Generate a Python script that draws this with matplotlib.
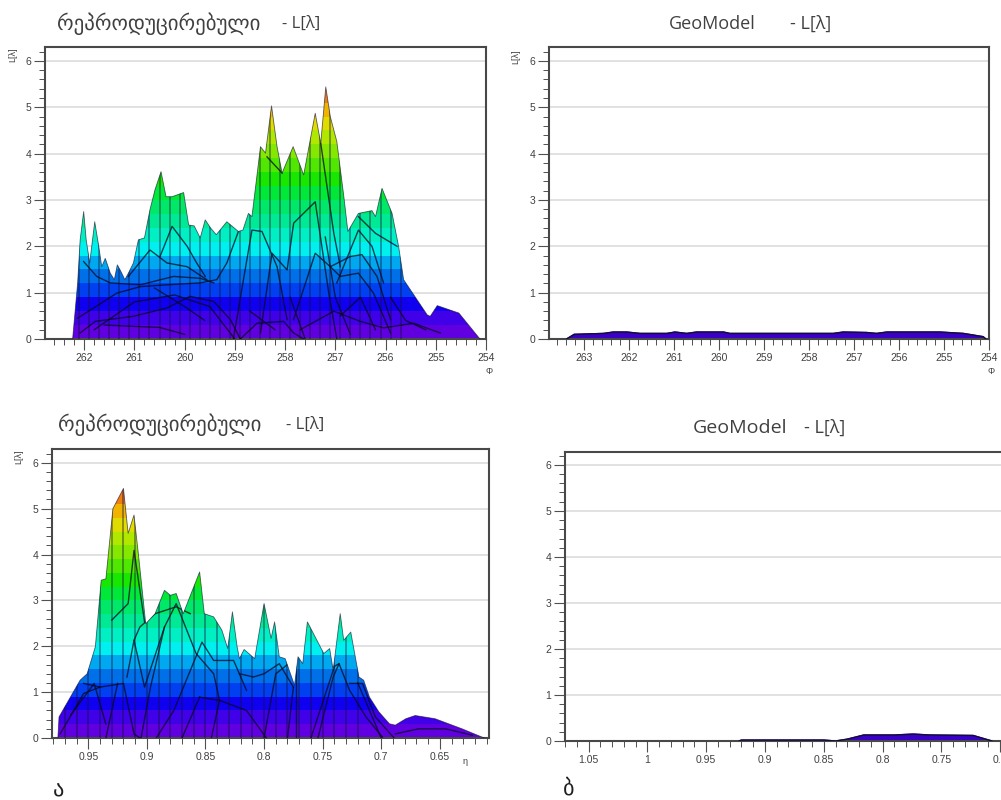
import matplotlib
matplotlib.use('Agg')
import matplotlib.pyplot as plt
from matplotlib.patches import Polygon
from matplotlib.ticker import AutoMinorLocator, FixedLocator, FixedFormatter

W, H = 1001, 800

# upper envelope of the reproduced distribution, phi projection
phi_x = [262.23, 262.13, 262.08, 262.01, 261.96, 261.89, 261.79, 261.71, 261.65, 261.58,
         261.48, 261.40, 261.34, 261.27, 261.19, 261.12, 261.02, 260.92, 260.80, 260.69,
         260.59, 260.47, 260.37, 260.25, 260.02, 259.92, 259.81, 259.69, 259.59, 259.48,
         259.37, 259.16, 258.93, 258.84, 258.73, 258.66, 258.49, 258.39, 258.27, 258.16,
         258.06, 257.84, 257.63, 257.40, 257.29, 257.19, 257.10, 256.97, 256.83, 256.75,
         256.54, 256.27, 256.20, 256.07, 255.87, 255.74, 255.64, 255.17, 255.11, 254.97,
         254.54, 254.12]
phi_y = [0, 1.21, 2.14, 2.75, 2.14, 1.64, 2.53, 2.00, 1.56, 1.74,
         1.42, 1.28, 1.60, 1.46, 1.28, 1.42, 1.64, 2.14, 2.18, 2.79,
         3.22, 3.61, 3.07, 3.07, 3.16, 2.46, 2.44, 2.18, 2.57, 2.39,
         2.25, 2.53, 2.32, 2.35, 2.71, 2.64, 4.15, 4.01, 5.03, 4.15,
         3.58, 4.15, 3.54, 4.87, 4.22, 5.44, 4.80, 4.26, 3.07, 2.32,
         2.71, 2.77, 2.64, 3.25, 2.71, 2.00, 1.28, 0.52, 0.49, 0.72,
         0.56, 0]

# wire lines inside the surface, phi projection
phi_wires = [
    [(262.13, .45), (261.81, .67), (261.35, .99), (260.88, 1.13), (260.35, 1.17), (259.69, 1.21),
     (259.36, 1.28), (259.16, 1.64), (258.93, 2.32)],
    [(262.08, .13), (261.78, .38), (261.02, .49), (260.35, .67), (259.89, .92), (259.42, .81),
     (259.09, .42), (258.89, 0)],
    [(262.01, 1.67), (261.75, 1.35), (261.48, 1.21), (260.88, 1.17), (260.22, 1.35), (259.69, 1.31),
     (259.42, 1.21)],
    [(261.12, 1.35), (260.69, 1.92), (260.35, 1.64), (259.95, 1.56), (259.56, 1.28)],
    [(260.49, 1.78), (260.25, 2.43), (259.95, 2.00), (259.76, 1.64), (259.59, 1.35)],
    [(258.89, 0), (258.56, .34), (258.03, .38), (257.83, .13), (257.63, 0)],
    [(259.03, 0), (258.66, 2.35), (258.46, 2.32), (258.16, 1.56), (257.96, .42)],
    [(258.49, .13), (258.26, 1.85), (257.96, 1.49), (257.83, 2.50), (257.40, 2.96), (257.13, .99),
     (256.97, 0)],
    [(258.36, 3.93), (258.06, 3.58)],
    [(257.83, .42), (257.40, 1.85), (257.10, 1.56), (256.90, 1.35), (256.54, 1.42), (256.24, .99),
     (255.90, .13)],
    [(257.10, 1.56), (256.70, 1.78), (256.47, 1.82), (256.17, 1.35), (255.90, .42)],
    [(256.97, 1.21), (256.54, 2.35), (256.27, 2.00), (256.04, 1.21)],
    [(256.54, 2.64), (256.20, 2.28), (255.77, 2.00)],
    [(257.70, .20), (257.03, .60), (256.50, .38), (256.04, .24), (255.44, .34), (254.91, .13)],
    [(257.29, 4.22), (257.03, 2.28), (256.90, 1.56)],
    [(261.80, .20), (261.00, .80), (260.20, .95), (259.50, .70), (259.00, 0)],
    [(261.60, .30), (260.50, .25), (260.00, .10)],
    [(258.70, .60), (258.20, .20)],
    [(257.90, .90), (257.60, 0)],
    [(257.20, 2.20), (257.00, .90), (256.70, .10)],
    [(256.90, .50), (256.50, .90), (256.20, .20)],
    [(255.90, .90), (255.60, .40), (255.20, .20)],
    [(260.60, 1.10), (260.00, .70), (259.60, .40)],
]
phi_grid = [262.1, 261.9, 261.7, 261.5, 261.3, 261.1, 260.9, 260.7, 260.5, 260.3, 260.1, 259.9,
            259.7, 259.5, 259.3, 259.1, 258.9, 258.7, 258.5, 258.3, 258.1, 257.9, 257.7, 257.5,
            257.3, 257.1, 256.9, 256.7, 256.5, 256.3, 256.1, 255.9, 255.7]

# upper envelope of the reproduced distribution, eta projection
eta_x = [.976, .975, .957, .951, .944, .939, .935, .929, .920, .916, .911, .907, .901, .893,
         .885, .880, .875, .869, .855, .851, .843, .836, .831, .827, .823, .821, .817, .808,
         .800, .794, .791, .787, .782, .774, .771, .767, .763, .749, .744, .741, .735, .732,
         .726, .719, .715, .710, .702, .693, .688, .679, .671, .654, .631, .612]
eta_y = [0, .46, 1.26, 1.40, 1.99, 3.44, 3.47, 5.00, 5.44, 4.46, 4.86, 3.95, 2.49, 2.71,
         3.22, 3.11, 3.15, 2.71, 3.62, 2.71, 2.64, 2.35, 1.95, 2.75, 1.99, 1.73, 1.93, 1.73,
         2.93, 2.17, 2.53, 1.77, 1.73, 1.15, 1.77, 1.62, 2.53, 1.84, 1.95, 1.48, 2.71, 2.13,
         2.31, 1.33, 1.26, .89, .57, .31, .28, .42, .49, .42, .20, 0]

eta_wires = [
    [(.930, 2.57), (.916, 2.93), (.911, 4.09), (.902, 2.53)],
    [(.911, 2.13), (.906, 2.42), (.893, 2.71), (.875, 2.86), (.863, 2.71)],
    [(.917, 1.33), (.911, 2.13), (.902, 1.11), (.885, 2.42), (.875, 2.93), (.858, 1.84), (.843, 1.40),
     (.838, .82)],
    [(.954, 1.19), (.940, 1.11), (.920, 1.19), (.911, .09), (.906, 0)],
    [(.892, 0), (.877, .60), (.853, 2.09), (.843, 1.69), (.826, 1.69), (.815, 1.04)],
    [(.821, 1.40), (.809, 1.33), (.800, 1.40), (.787, 1.62), (.775, 1.11)],
    [(.855, .89), (.838, .82), (.815, .60), (.798, 0)],
    [(.773, 0), (.773, 1.69)],
    [(.741, 1.55), (.736, 1.62), (.727, 1.04), (.713, .46), (.699, .02)],
    [(.727, 1.19), (.716, 1.19), (.705, .46), (.689, 0)],
    [(.688, .09), (.668, .20), (.645, .20), (.622, .06)],
    [(.754, 0), (.741, 1.33), (.736, 1.62)],
    [(.974, .09), (.954, .97), (.940, 1.11)],
    [(.935, 0), (.925, 1.19)],
    [(.905, 0), (.897, 1.10), (.885, 2.42)],
    [(.870, 0), (.855, .89)],
    [(.845, 0), (.838, .82)],
    [(.800, 0), (.790, 1.40), (.780, 1.60)],
    [(.780, 0), (.775, 1.10)],
    [(.760, 0), (.740, 1.55)],
    [(.720, 1.20), (.700, 0)],
    [(.965, .50), (.945, 1.19), (.935, .30)],
]
eta_grid = [.97, .96, .95, .94, .93, .92, .91, .90, .89, .88, .87, .86, .85, .84, .83, .82, .81,
            .80, .79, .78, .77, .76, .75, .74, .73, .72]

# GeoModel is almost flat in both projections
geo_phi_x = [263.39, 263.22, 262.57, 262.35, 262.05, 261.76, 261.16, 260.98, 260.72, 260.5, 259.9,
             259.76, 257.46, 257.24, 256.72, 256.5, 256.27, 255.09, 254.57, 254.13, 254.07]
geo_phi_y = [0, .10, .12, .15, .15, .12, .12, .15, .12, .15, .15,
             .12, .12, .15, .14, .12, .15, .15, .12, .05, 0]
geo_eta_x = [.922, .92, .85, .84, .83, .816, .79, .774, .76, .723, .707]
geo_eta_y = [0, .02, .02, 0, .04, .13, .13, .15, .13, .12, 0]

band_edges = [0, .3, .6, .9, 1.2, 1.5, 1.8, 2.1, 2.4, 2.7, 3.0, 3.3, 3.6, 3.9, 4.2, 4.5, 4.8, 5.1, 5.7]
band_colors = ['#6000e0', '#4000e8', '#1000f0', '#0040f0', '#0070e8', '#00a8f0', '#00f0f0', '#00f0c4',
               '#00ea96', '#00e868', '#00e838', '#18e800', '#50e800', '#84e800', '#b0e800', '#e0dc00',
               '#f0b400', '#f07c10']

phi_ticks = [262, 261, 260, 259, 258, 257, 256, 255, 254]
phi_ticks2 = [263, 262, 261, 260, 259, 258, 257, 256, 255, 254]
eta_ticks = [.95, .9, .85, .8, .75, .7, .65]
eta_labels = ['0.95', '0.9', '0.85', '0.8', '0.75', '0.7', '0.65']
eta_ticks2 = [1.05, 1, .95, .9, .85, .8, .75, .7]
eta_labels2 = ['1.05', '1', '0.95', '0.9', '0.85', '0.8', '0.75', '0.7']

TICK_FONT = ['Liberation Sans', 'DejaVu Sans']
TITLE_FONT = ['Open Sans', 'DejaVu Sans']
GREY = '#505050'

fig = plt.figure(figsize=(W / 100, H / 100), dpi=100)


def make_axes(box, xlim, ylim, ticks, labels, minor_n):
    left, top, right, bottom = box
    ax = fig.add_axes([left / W, 1 - bottom / H, (right - left) / W, (bottom - top) / H])
    ax.set_xlim(xlim)
    ax.set_ylim(ylim)
    ax.xaxis.set_major_locator(FixedLocator(ticks))
    ax.xaxis.set_major_formatter(FixedFormatter(labels))
    ax.xaxis.set_minor_locator(AutoMinorLocator(minor_n))
    ax.set_yticks([0, 1, 2, 3, 4, 5, 6])
    ax.yaxis.set_minor_locator(AutoMinorLocator(5))
    ax.yaxis.grid(True, color='#dcdcdc', lw=1.2)
    ax.set_axisbelow(True)
    ax.tick_params(which='major', length=8, width=0.8, color=GREY, labelcolor='#404040', labelsize=7.5, pad=2)
    ax.tick_params(which='minor', length=4, width=0.7, color=GREY)
    for lab in ax.get_xticklabels() + ax.get_yticklabels():
        lab.set_fontfamily(TICK_FONT)
    for s in ax.spines.values():
        s.set_color('#484848')
        s.set_linewidth(1.5)
    return ax


def draw_surface(ax, xs, ys, wires=None, grid=None):
    outline = Polygon(list(zip(xs, ys)), closed=True, fc='none', ec='none', transform=ax.transData)
    ax.add_patch(outline)
    # colour bands are horizontal, cut to the shape of the surface
    for lo, hi, c in zip(band_edges[:-1], band_edges[1:], band_colors):
        b = ax.axhspan(lo, hi, color=c, lw=0, zorder=2)
        b.set_clip_path(outline)
    if grid:
        v = ax.vlines(grid, 0, 6.3, color='#101040', lw=1.1, alpha=0.5, zorder=3)
        v.set_clip_path(outline)
    for w in wires or []:
        line, = ax.plot([p[0] for p in w], [p[1] for p in w], color='#080820', lw=1.0, alpha=0.75, zorder=4)
        line.set_clip_path(outline)
    ax.plot(xs, ys, color='#101030', lw=0.6, alpha=0.65, zorder=5)


# top left
ax = make_axes((45, 47, 486, 339), (262.78, 254), (0, 6.3), phi_ticks, [str(t) for t in phi_ticks], 5)
draw_surface(ax, phi_x, phi_y, phi_wires, phi_grid)

# top right
ax = make_axes((549, 47, 989, 339), (263.78, 254), (0, 6.3), phi_ticks2, [str(t) for t in phi_ticks2], 5)
ax.fill(geo_phi_x, geo_phi_y, color='#3a00c8', zorder=2)
ax.plot(geo_phi_x, geo_phi_y, color='#101030', lw=1.0, zorder=3)

# bottom left
ax = make_axes((52, 449, 489, 738), (.981, .608), (0, 6.3), eta_ticks, eta_labels, 5)
draw_surface(ax, eta_x, eta_y, eta_wires, eta_grid)

# bottom right, runs past the edge of the picture
ax = make_axes((565, 452, 1012, 741), (1.07, .69), (0, 6.28), eta_ticks2, eta_labels2, 5)
ax.fill(geo_eta_x, geo_eta_y, color='#3a00c8', zorder=2)
ax.plot(geo_eta_x, geo_eta_y, color='#101030', lw=1.0, zorder=3)


def px_text(x, y, s, size, color='#404040', family=TITLE_FONT, **kw):
    fig.text(x / W, 1 - y / H, s, fontsize=size, color=color, family=family, va='center', **kw)


# axis names
for x, y in [(13, 55), (516, 57), (19, 457)]:
    px_text(x, y, 'L[λ]', 6.5, family=TICK_FONT, rotation=90, ha='center')
for x, y in [(486, 371), (987, 371)]:
    px_text(x, y, 'Φ', 6.5, family=TICK_FONT)
px_text(463, 761, 'η', 6.5, family=TICK_FONT)

# titles
px_text(57, 24, 'რეპროდუცირებული', 15)
px_text(282, 24, '- L[λ]', 12)
px_text(669, 24, 'GeoModel', 13)
px_text(790, 24, '- L[λ]', 13)
px_text(58, 425, 'რეპროდუცირებული', 15)
px_text(286, 425, '- L[λ]', 12)
px_text(693, 428, 'GeoModel', 14)
px_text(804, 428, '- L[λ]', 13)

px_text(53, 791, 'ა', 16, color='#202020')
px_text(563, 789, 'ბ', 16, color='#202020')

fig.savefig('out.png', dpi=100)
